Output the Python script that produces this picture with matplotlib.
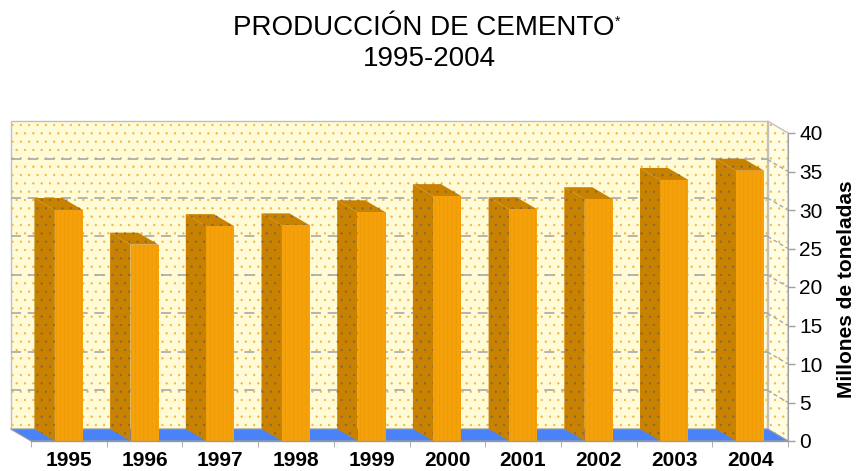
import matplotlib
matplotlib.use('Agg')
from matplotlib import pyplot as plt
from matplotlib.patches import Polygon

plt.rcParams['font.family'] = ['Liberation Sans', 'DejaVu Sans']
plt.rcParams['hatch.linewidth'] = 0.4

# data
years = ['1995', '1996', '1997', '1998', '1999', '2000', '2001', '2002', '2003', '2004']
produccion = [30.0, 25.5, 27.9, 28.0, 29.7, 31.8, 30.1, 31.4, 33.9, 35.1]
yticks = [0, 5, 10, 15, 20, 25, 30, 35, 40]

# pseudo 3d depth (front -> back), in data units
DX, DY = 0.27, 1.56
BAR_W = 0.37

WALL = '#fffbd6'
SIDE = '#fffde2'
DOTS = '#f7b23a'
FLOOR = '#4a82f8'
FRONT = '#f5a10c'
DARK = '#c98200'
GRID = '#a8a8a8'

fig = plt.figure(figsize=(8.59, 4.71), dpi=100)
ax = fig.add_axes([31 / 859, 30 / 471, 757 / 859, 308 / 471])
n = len(years)
ax.set_xlim(0, n)
ax.set_ylim(0, 40)
ax.patch.set_visible(False)

def poly(pts, **kw):
    p = Polygon(pts, closed=True, clip_on=False, **kw)
    ax.add_patch(p)
    return p

# back wall
back = [(-DX, DY), (n - DX, DY), (n - DX, 40 + DY), (-DX, 40 + DY)]
poly(back, facecolor=WALL, edgecolor=DOTS, hatch='..', lw=0, zorder=1)
poly(back, facecolor='none', edgecolor='#c0c0c0', lw=1, zorder=2)
# right side wall
side_wall = [(n - DX, DY), (n, 0), (n, 40), (n - DX, 40 + DY)]
poly(side_wall, facecolor=SIDE, edgecolor=DOTS, hatch='..', lw=0, zorder=1)
poly(side_wall, facecolor='none', edgecolor='#c0c0c0', lw=1, zorder=2)

for v in yticks[1:-1]:
    ax.plot([-DX, n - DX], [v + DY, v + DY], color=GRID, lw=1.2,
            ls=(0, (6, 4)), clip_on=False, zorder=2)
    ax.plot([n - DX, n], [v + DY, v], color=GRID, lw=1.0,
            ls=(0, (3, 2)), clip_on=False, zorder=2)

# floor
poly([(0, 0), (n, 0), (n - DX, DY), (-DX, DY)],
     facecolor=FLOOR, edgecolor='#9a9a9a', lw=0.8, zorder=3)

# bars
for i, v in enumerate(produccion):
    x0 = i + 0.5 - BAR_W / 2
    x1 = i + 0.5 + BAR_W / 2
    side = [(x0, 0), (x0, v), (x0 - DX, v + DY), (x0 - DX, DY)]
    top = [(x0, v), (x1, v), (x1 - DX, v + DY), (x0 - DX, v + DY)]
    poly(side, facecolor=DARK, edgecolor='#7d6848', hatch='..', lw=0, zorder=4)
    poly(top, facecolor=DARK, edgecolor='#7d6848', hatch='..', lw=0, zorder=4)
    ax.bar(i + 0.5, v, width=BAR_W, color=FRONT, edgecolor='#eb9800',
           hatch='||||', lw=0, zorder=5)

# axes and ticks
for s in ['top', 'left', 'bottom']:
    ax.spines[s].set_visible(False)
ax.spines['right'].set_color('#a0a0a0')
ax.spines['right'].set_zorder(6)
ax.yaxis.tick_right()
ax.set_yticks(yticks)
ax.tick_params(axis='y', colors='#a0a0a0', length=5, width=1, pad=3,
               labelcolor='black', labelsize=15)
ax.set_xticks([i + 0.5 for i in range(n)])
ax.set_xticklabels(years, fontsize=15, fontweight='bold')
ax.set_xticks(range(n + 1), minor=True)
ax.tick_params(axis='x', which='major', length=0, pad=7)
ax.tick_params(axis='x', which='minor', length=4, color='#a0a0a0')
ax.plot([0, n], [0, 0], color='#9a9a9a', lw=1, clip_on=False, zorder=6)

fig.text(847 / 859, 1 - 289 / 471, 'Millones de toneladas', rotation=90,
         ha='center', va='center', fontsize=15, fontweight='bold')

t = fig.text(424 / 859, 1 - 28 / 471, 'PRODUCCIÓN DE CEMENTO',
             ha='center', va='center', fontsize=20)
ax.annotate('*', xy=(1, 1), xycoords=t, ha='left', va='top', fontsize=10,
            annotation_clip=False)
fig.text(429 / 859, 1 - 59 / 471, '1995-2004', ha='center', va='center',
         fontsize=20)

fig.savefig('out.png', dpi=100)
